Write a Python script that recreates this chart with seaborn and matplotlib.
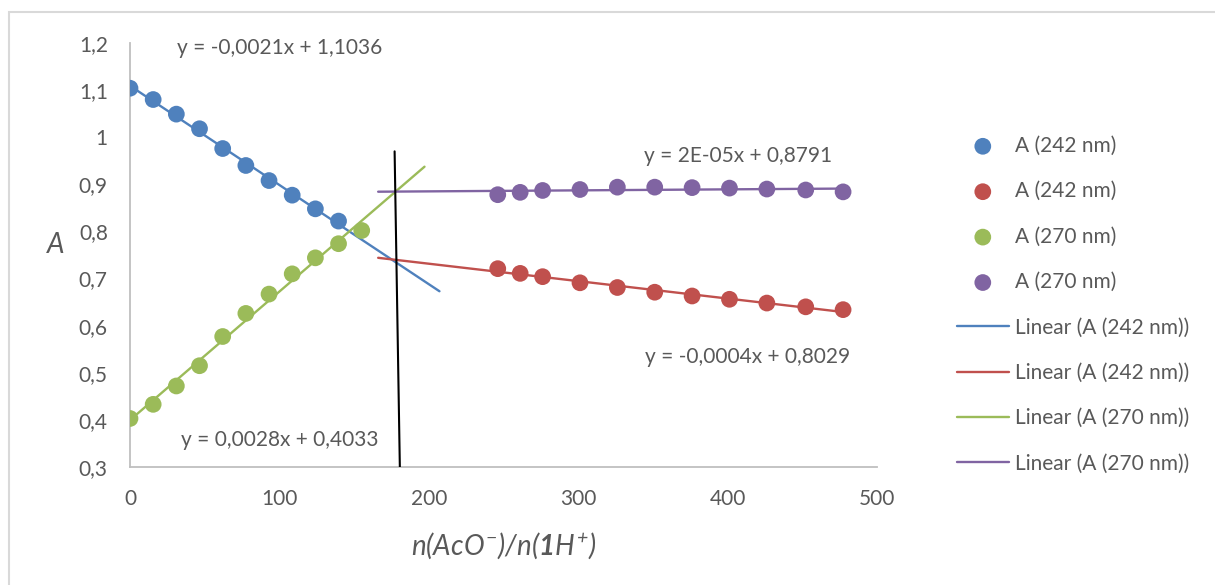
import numpy as np
import pandas as pd
import matplotlib
matplotlib.use("Agg")
import matplotlib.pyplot as plt
import seaborn as sns
from matplotlib.ticker import FuncFormatter, MultipleLocator
from matplotlib.patches import Rectangle

# --- data ---
x_242a = [0, 15.5, 31, 46.5, 62, 77.5, 93, 108.5, 124, 139.5]
a_242a = [1.104, 1.080, 1.049, 1.018, 0.976, 0.940, 0.908, 0.877, 0.848, 0.822]

x_270a = [0, 15.5, 31, 46.5, 62, 77.5, 93, 108.5, 124, 139.5, 155]
a_270a = [0.403, 0.433, 0.472, 0.515, 0.577, 0.626, 0.667, 0.710, 0.744, 0.774, 0.802]

x_b = [246, 261, 276, 301, 326, 351, 376, 401, 426, 452, 477]
a_242b = [0.721, 0.711, 0.704, 0.691, 0.681, 0.671, 0.663, 0.656, 0.648, 0.640, 0.634]
a_270b = [0.878, 0.883, 0.887, 0.889, 0.894, 0.894, 0.893, 0.892, 0.890, 0.888, 0.884]

# trend line ranges (Excel forecast forward/backward)
trend_range = {"blue": (0, 207), "green": (0, 197), "red": (166, 477), "purple": (166, 477)}

# hand drawn vertical marker line
marker_x = [177, 180.5]
marker_y = [0.97, 0.30]

equations = ["y = -0,0021x + 1,1036", "y = 0,0028x + 0,4033",
             "y = -0,0004x + 0,8029", "y = 2E-05x + 0,8791"]
eq_pos = [(100, 1.189), (100, 0.357), (413, 0.534), (407, 0.960)]

colors = {"blue": "#4F81BD", "red": "#C0504D", "green": "#9BBB59", "purple": "#8064A2"}
labels = {"blue": "A (242 nm)", "red": "A (242 nm)", "green": "A (270 nm)", "purple": "A (270 nm)"}

series = {
    "blue": (x_242a, a_242a),
    "red": (x_b, a_242b),
    "green": (x_270a, a_270a),
    "purple": (x_b, a_270b),
}

sns.set_style("white")
plt.rcParams["font.family"] = ["Lato", "DejaVu Sans"]
plt.rcParams["mathtext.fontset"] = "custom"
plt.rcParams["mathtext.rm"] = "Lato:italic"
plt.rcParams["mathtext.it"] = "Lato:italic"
plt.rcParams["mathtext.bf"] = "Lato:bold:italic"

text_col = "#595959"
axis_col = "#BFBFBF"
fs = 15

fig = plt.figure(figsize=(12.15, 5.85), dpi=100)
fig.patches.append(Rectangle((9 / 1215, -0.1), 1.2, 1.1 - 12 / 585,
                             transform=fig.transFigure, fill=False,
                             edgecolor="#D9D9D9", linewidth=1.5))
ax = fig.add_axes([0.107, 0.2017, 0.6152, 0.7248])

# scatter points
for key in ["blue", "red", "green", "purple"]:
    xs, ys = series[key]
    df = pd.DataFrame({"x": xs, "A": ys})
    sns.scatterplot(data=df, x="x", y="A", ax=ax, color=colors[key], s=145,
                    edgecolor="none", label=labels[key], zorder=3)

# linear trend lines
for key in ["blue", "red", "green", "purple"]:
    xs, ys = series[key]
    k, b = np.polyfit(xs, ys, 1)
    lo, hi = trend_range[key]
    xl = np.array([lo, hi])
    df = pd.DataFrame({"x": xl, "A": k * xl + b})
    sns.lineplot(data=df, x="x", y="A", ax=ax, color=colors[key], linewidth=1.7,
                 label="Linear (" + labels[key] + ")", zorder=2)

ax.plot(marker_x, marker_y, color="black", linewidth=1.5, zorder=4)

for txt, (tx, ty) in zip(equations, eq_pos):
    ax.text(tx, ty, txt, ha="center", va="center", fontsize=fs, color=text_col)

ax.set_xlim(0, 500)
ax.set_ylim(0.3, 1.2)
ax.xaxis.set_major_locator(MultipleLocator(100))
ax.xaxis.set_minor_locator(MultipleLocator(20))
ax.yaxis.set_major_locator(MultipleLocator(0.1))
ax.yaxis.set_major_formatter(FuncFormatter(lambda v, p: f"{v:.1f}".rstrip("0").rstrip(".").replace(".", ",")))

for s in ["top", "right"]:
    ax.spines[s].set_visible(False)
for s in ["left", "bottom"]:
    ax.spines[s].set_color(axis_col)
    ax.spines[s].set_linewidth(1.3)

ax.tick_params(axis="y", length=0, pad=16, labelsize=fs, labelcolor=text_col)
ax.tick_params(axis="x", which="major", direction="inout", length=9, width=1.1,
               color=axis_col, pad=11, labelsize=fs, labelcolor=text_col)
ax.tick_params(axis="x", which="minor", direction="in", length=4, width=1.1, color=axis_col)

ax.set_xlabel(r"$n(AcO^{-})/n(\mathbf{1}H^{+})$", fontsize=20, color=text_col, labelpad=16)
ax.set_ylabel("A", fontsize=20, color=text_col, style="italic", rotation=0)
ax.yaxis.set_label_coords(-0.10, 0.493)

handles, labs = ax.get_legend_handles_labels()
leg = ax.legend(handles, labs, loc="upper left", bbox_to_anchor=(938 / 1215, 1 - 117 / 585),
                bbox_transform=fig.transFigure, frameon=False, fontsize=fs,
                labelcolor=text_col, handlelength=2.5, handletextpad=0.3,
                labelspacing=1.22, markerscale=1.0)

fig.savefig("out.png", dpi=100)
